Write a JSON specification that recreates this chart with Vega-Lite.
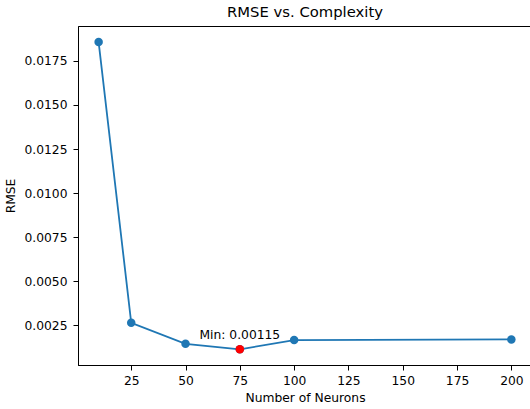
{
  "$schema": "https://vega.github.io/schema/vega-lite/v6.json",
  "autosize": "none",
  "padding": {"left": 78, "top": 26, "right": 0, "bottom": 44},
  "width": 454,
  "height": 339,
  "background": "white",
  "title": {"text": "RMSE vs. Complexity", "font": "DejaVu Sans", "fontSize": 14.8, "fontWeight": "normal", "color": "#000", "offset": 6},
  "config": {
    "view": {"stroke": "#000", "strokeWidth": 1},
    "axis": {
      "labelFont": "DejaVu Sans", "titleFont": "DejaVu Sans",
      "labelFontSize": 12.3, "titleFontSize": 12.3, "titleFontWeight": "normal",
      "labelColor": "#000", "titleColor": "#000",
      "domainColor": "#000", "tickColor": "#000", "tickSize": 5,
      "labelPadding": 4, "grid": false
    }
  },
  "data": {"values": [
    {"n": 10, "rmse": 0.01856, "isMin": false, "label": ""},
    {"n": 25, "rmse": 0.00265, "isMin": false, "label": ""},
    {"n": 50, "rmse": 0.00146, "isMin": false, "label": ""},
    {"n": 75, "rmse": 0.00115, "isMin": true, "label": "Min: 0.00115"},
    {"n": 100, "rmse": 0.00167, "isMin": false, "label": ""},
    {"n": 200, "rmse": 0.00171, "isMin": false, "label": ""}
  ]},
  "encoding": {
    "x": {"field": "n", "type": "quantitative", "scale": {"domain": [0.5, 209.5], "nice": false, "zero": false},
      "axis": {"title": "Number of Neurons", "values": [25, 50, 75, 100, 125, 150, 175, 200], "titlePadding": 5}},
    "y": {"field": "rmse", "type": "quantitative", "scale": {"domain": [0.00026, 0.01947], "nice": false, "zero": false},
      "axis": {"title": "RMSE", "values": [0.0025, 0.005, 0.0075, 0.01, 0.0125, 0.015, 0.0175], "format": ".4f", "labelPadding": 6, "titlePadding": 6}}
  },
  "layer": [
    {"mark": {"type": "line", "color": "#1f77b4", "strokeWidth": 1.8}},
    {"mark": {"type": "point", "filled": true, "color": "#1f77b4", "size": 72, "opacity": 1}},
    {"transform": [{"filter": "datum.isMin"}], "mark": {"type": "point", "filled": true, "color": "#ff0000", "size": 72, "opacity": 1}},
    {"transform": [{"filter": "datum.isMin"}], "mark": {"type": "text", "font": "DejaVu Sans", "fontSize": 12.3, "color": "#000", "align": "center", "baseline": "alphabetic", "dy": -10, "dx": 0},
      "encoding": {"text": {"field": "label"}}}
  ]
}
